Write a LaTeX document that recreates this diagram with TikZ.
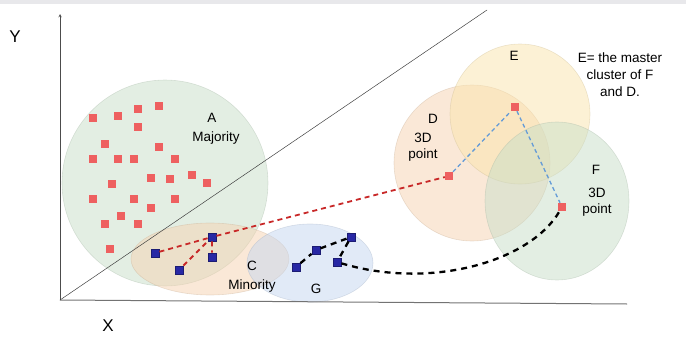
\documentclass[tikz,border=0pt]{standalone}
\usepackage{fontspec}
\setmainfont{Liberation Sans}
\usetikzlibrary{shapes.geometric, arrows}
\definecolor{grayband}{RGB}{232,232,235}
\definecolor{clgreen}{RGB}{200,222,200}
\definecolor{clpeach}{RGB}{245,210,176}
\definecolor{clblue}{RGB}{196,214,240}
\definecolor{clyellow}{RGB}{250,228,172}
\definecolor{ptred}{RGB}{238,96,96}
\definecolor{ptblue}{RGB}{40,40,165}
\definecolor{lnred}{RGB}{200,40,40}
\definecolor{lnblue}{RGB}{100,155,215}
\tikzset{
  >=stealth,
  every node/.style={font=\fontsize{13.5}{15}\selectfont},
  cluster/.style={draw=#1!80!black, fill=#1, fill opacity=0.5, draw opacity=0.35, line width=0.6pt},
  redpt/.style={rectangle, fill=ptred, minimum size=8pt, inner sep=0pt},
  bluept/.style={rectangle, fill=ptblue, draw=ptblue!70!black, minimum size=8.5pt, inner sep=0pt},
  reddash/.style={draw=lnred, line width=1.8pt, dash pattern=on 5pt off 4pt},
  blackdash/.style={draw=black, line width=2.3pt, dash pattern=on 6pt off 5pt},
  bluedash/.style={draw=lnblue, line width=1.3pt, dash pattern=on 4pt off 3pt},
}

\begin{document}
\begin{tikzpicture}[x=1pt, y=-1pt]
      \useasboundingbox (0,0) rectangle (686,340);
      \fill[grayband] (0,0) rectangle (686,4);

      % clusters
      \node[cluster=clgreen, circle, minimum size=206pt] (A) at (165,183) {};
      \node[cluster=clpeach, ellipse, minimum width=158pt, minimum height=72pt] (C) at (210,259) {};
      \node[cluster=clblue, ellipse, minimum width=126pt, minimum height=78pt] (G) at (310,263) {};
      \node[cluster=clpeach, circle, minimum size=156pt] (D) at (472,163) {};
      \node[cluster=clyellow, circle, minimum size=140pt] (E) at (520,114) {};
      \node[cluster=clgreen, ellipse, minimum width=144pt, minimum height=158pt] (F) at (557,201) {};

      % axes
      \coordinate (O) at (60,300);
      \coordinate (ytop) at (60,14);
      \coordinate (xend) at (627,304);
      \coordinate (diag) at (487,10);
      \draw[->, black!70, line width=0.5pt] (O) -- (ytop);
      \draw[black!55, line width=1pt] (O) -- (xend);
      \draw[black!75, line width=0.5pt] (O) -- (diag);
      \node[font=\fontsize{17}{19}\selectfont] (ylab) at (15,37) {Y};
      \node[font=\fontsize{17}{19}\selectfont] (xlab) at (108,326) {X};

      % majority points
      \foreach \px/\py in {93/118, 118/116, 138/109, 159/106, 138/127, 105/144, 159/147,
          93/159, 118/159, 134/159, 175/159, 112/184, 151/178, 170/179, 192/175, 207/183,
          93/199, 134/199, 175/199, 151/208, 121/216, 105/224, 138/224, 110/249}
        \node[redpt] at (\px,\py) {};

      % minority and cluster points
      \node[bluept] (c1) at (155,253) {};
      \node[bluept] (c2) at (212,237) {};
      \node[bluept] (c3) at (212,257) {};
      \node[bluept] (c4) at (179,270) {};
      \node[bluept] (g1) at (296,267) {};
      \node[bluept] (g2) at (316,250) {};
      \node[bluept] (g3) at (351,237) {};
      \node[bluept] (g4) at (337,262) {};
      \node[redpt] (d) at (449,176) {};
      \node[redpt] (e) at (515,107) {};
      \node[redpt] (f) at (562,207) {};

      \draw[reddash] (c1) -- (c2) (c2) -- (c3) (c4) -- (c2) (c2) -- (d);
      \draw[blackdash] (g1) -- (g2) (g2) -- (g3) (g3) -- (g4);
      \draw[blackdash] (g4) .. controls (430,290) and (530,262) .. (f);
      \draw[bluedash] (d) -- (e) (e) -- (f);

      % labels
      \node (labA) at (212,118) {A};
      \node (labMaj) at (216,138) {Majority};
      \node (labC) at (252,266) {C};
      \node (labMin) at (252,286) {Minority};
      \node (labG) at (316,289) {G};
      \node (labD) at (433,119) {D};
      \node[align=center] (labD3) at (423,147) {3D\\[1pt]point};
      \node (labE) at (514,56) {E};
      \node (labF) at (596,170) {F};
      \node[align=center] (labF3) at (597,202) {3D\\[1pt]point};
      \node[align=center] (note) at (620,75) {E= the master\\[2pt]cluster of F\\[2pt]and D.};
    \end{tikzpicture}
\end{document}
